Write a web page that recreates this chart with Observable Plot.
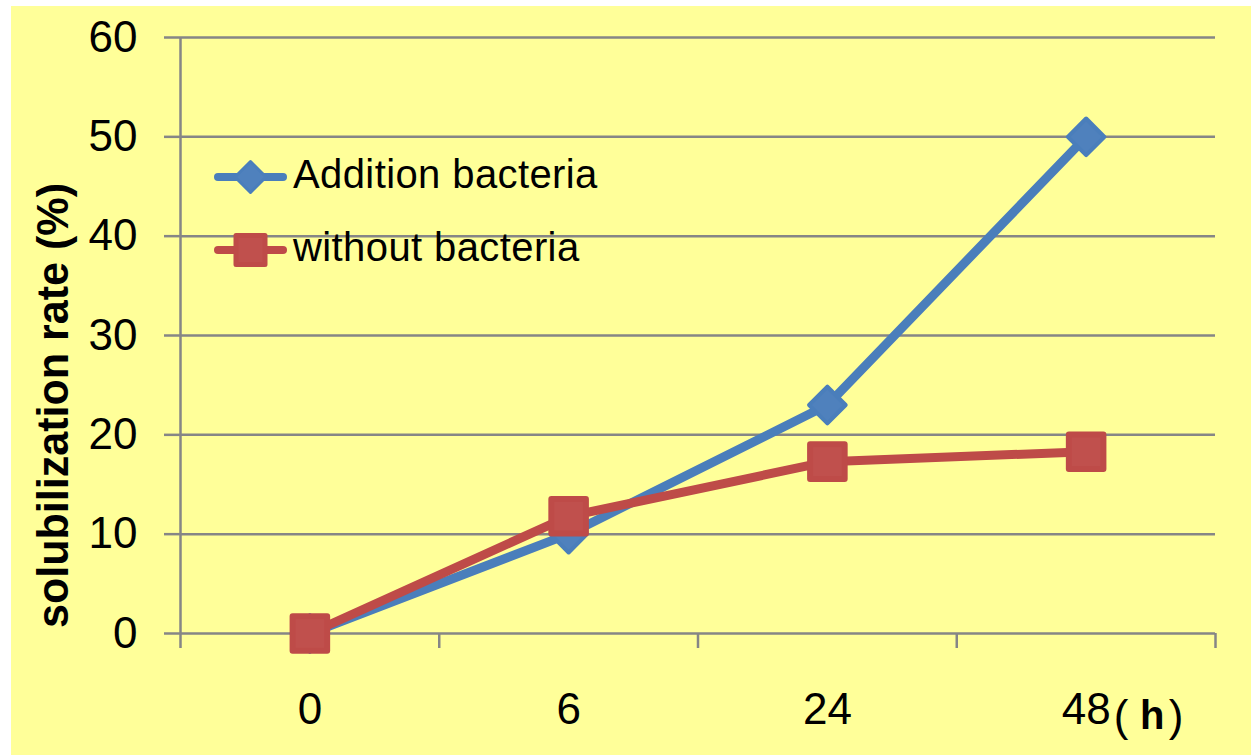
<!DOCTYPE html>
<html>
<head>
<meta charset="utf-8">
<script src="https://cdn.jsdelivr.net/npm/d3@7"></script>
<script src="https://cdn.jsdelivr.net/npm/@observablehq/plot@0.6"></script>
<style>
  html, body { margin: 0; padding: 0; background: #ffffff; width: 1251px; height: 755px; overflow: hidden; }
  #chart { position: absolute; left: 11px; top: 6px; }
  #legend { position: absolute; left: 214px; top: 140px; font-family: "Liberation Sans", Arial, sans-serif; font-size: 40px; color: #000; }
  .row { display: flex; align-items: center; height: 73px; }
  .row svg { display: block; margin-right: 6px; }
  .row span { position: relative; top: -2px; letter-spacing: 0.4px; }
</style>
</head>
<body>
<div id="chart"></div>
<div id="legend"></div>
<script>
const hours = ["0", "6", "24", "48"];
const additionBacteria = [0, 10, 23, 50];
const withoutBacteria = [0, 11.8, 17.3, 18.3];
const yTicks = [0, 10, 20, 30, 40, 50, 60];
const seriesNames = ["Addition bacteria", "without bacteria"];
const yTitle = "solubilization rate (%)";
const unitLabel = "h";

const blueLine = "#4A7EBB", blueFill = "#4F81BD";
const redLine = "#BE4B48", redFill = "#C0504D";
const gray = "#868686";

const pos = (d, i) => i + 0.5;
const bounds = d3.range(hours.length + 1);
const centers = hours.map((_, i) => i + 0.5);

const chart = Plot.plot({
  width: 1240,
  height: 749,
  marginLeft: 169,
  marginRight: 36,
  marginTop: 31,
  marginBottom: 122,
  style: { background: "#ffff99", fontFamily: "Liberation Sans, Arial, sans-serif", color: "#000", overflow: "visible" },
  x: { domain: [0, hours.length], axis: null },
  y: { domain: [0, 60], axis: null },
  marks: [
    Plot.gridY(yTicks, { stroke: gray, strokeOpacity: 1, strokeWidth: 2.5 }),
    Plot.axisY({ ticks: yTicks, tickSize: 16, tickPadding: 27, fontSize: 44, stroke: gray, strokeWidth: 2.5, label: null }),
    Plot.ruleX([0], { stroke: gray, strokeWidth: 2.5 }),
    Plot.axisX({ ticks: bounds, tickSize: 15, tickFormat: () => "", stroke: gray, strokeWidth: 2.5, label: null }),
    Plot.axisX({ ticks: centers, tickSize: 0, tickPadding: 59, fontSize: 44, tickFormat: d => hours[Math.round(d - 0.5)], label: null }),
    Plot.text(["("], { x: () => hours.length - 0.5, frameAnchor: "bottom", dy: 83, dx: 35, fontSize: 44, lineAnchor: "middle" }),
    Plot.text([unitLabel], { x: () => hours.length - 0.5, frameAnchor: "bottom", dy: 83, dx: 66, fontSize: 40, fontWeight: "bold", lineAnchor: "middle" }),
    Plot.text([")"], { x: () => hours.length - 0.5, frameAnchor: "bottom", dy: 83, dx: 90, fontSize: 44, lineAnchor: "middle" }),
    Plot.text([yTitle], { frameAnchor: "left", dx: -127, dy: 70, rotate: -90, fontSize: 44, fontWeight: "bold", lineAnchor: "middle", textAnchor: "middle", className: "ytitle" }),
    Plot.line(additionBacteria, { x: pos, y: d => d, stroke: blueLine, strokeWidth: 9, strokeLinejoin: "round" }),
    Plot.dot(additionBacteria, { x: pos, y: d => d, symbol: "diamond2", r: 16.5, fill: blueFill, stroke: blueLine, strokeWidth: 4, strokeLinejoin: "round" }),
    Plot.line(withoutBacteria, { x: pos, y: d => d, stroke: redLine, strokeWidth: 9, strokeLinejoin: "round" }),
    Plot.dot(withoutBacteria, { x: pos, y: d => d, symbol: "square", r: 19.5, fill: redFill, stroke: redLine, strokeWidth: 6, strokeLinejoin: "round" })
  ]
});
document.getElementById("chart").appendChild(chart);
d3.select(chart).selectAll(".ytitle text").attr("textLength", 445).attr("lengthAdjust", "spacingAndGlyphs");

// legend
const legend = d3.select("#legend");
const styles = [
  { line: blueLine, fill: blueFill, shape: "diamond" },
  { line: redLine, fill: redFill, shape: "square" }
];
seriesNames.forEach((name, i) => {
  const row = legend.append("div").attr("class", "row");
  const svg = row.append("svg").attr("width", 73).attr("height", 50);
  svg.append("line").attr("x1", 4).attr("x2", 69).attr("y1", 25).attr("y2", 25)
    .attr("stroke", styles[i].line).attr("stroke-width", 8).attr("stroke-linecap", "round");
  if (styles[i].shape === "diamond") {
    svg.append("path").attr("d", "M36.5,9.5L52,25L36.5,40.5L21,25Z")
      .attr("fill", styles[i].fill).attr("stroke", styles[i].line).attr("stroke-width", 3).attr("stroke-linejoin", "round");
  } else {
    svg.append("rect").attr("x", 22).attr("y", 10.5).attr("width", 29).attr("height", 29)
      .attr("fill", styles[i].fill).attr("stroke", styles[i].line).attr("stroke-width", 5).attr("stroke-linejoin", "round");
  }
  row.append("span").text(name);
});
</script>
</body>
</html>
